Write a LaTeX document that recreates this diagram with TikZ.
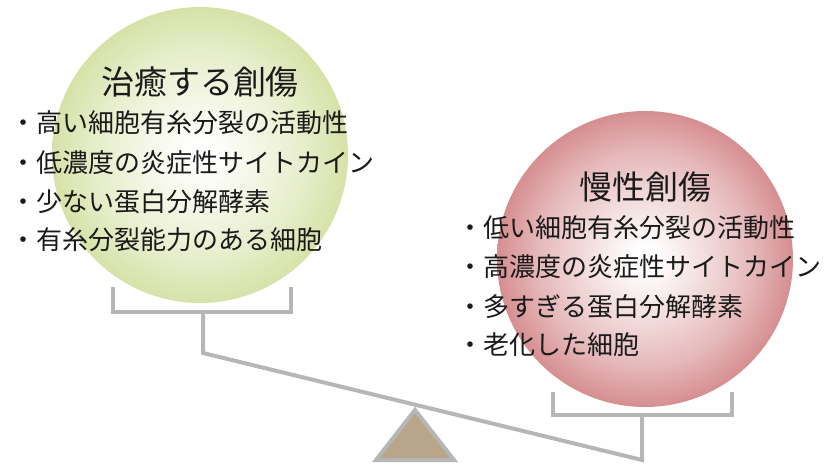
\documentclass[tikz,border=0pt]{standalone}
\usepackage{fontspec}
\setmainfont{Noto Sans CJK JP}
\definecolor{gedge}{HTML}{D6E2A8}
\definecolor{redge}{HTML}{D68E90}
\definecolor{beamgray}{HTML}{B6B6B6}
\definecolor{tan}{HTML}{B9A58A}
\definecolor{ink}{HTML}{1A1A1A}
\pgfdeclareradialshading{greenball}{\pgfpoint{0bp}{0bp}}{color(0bp)=(white); color(2bp)=(white); color(12bp)=(gedge!38!white); color(18bp)=(gedge!62!white); color(25bp)=(gedge); color(50bp)=(gedge)}
\pgfdeclareradialshading{redball}{\pgfpoint{0bp}{0bp}}{color(0bp)=(white); color(2bp)=(white); color(12bp)=(redge!38!white); color(18bp)=(redge!62!white); color(25bp)=(redge); color(50bp)=(redge)}
\tikzset{
  titletext/.style={font=\fontsize{33}{36}\selectfont, text=ink, inner sep=0pt},
  itemtext/.style={font=\fontsize{26}{30}\selectfont, text=ink, inner sep=0pt, anchor=west},
  scaleline/.style={draw=beamgray, line width=4pt, line join=miter, line cap=butt},
}
\begin{document}
\begin{tikzpicture}[x=1pt,y=-1pt]
\useasboundingbox (0,0) rectangle (839,471);
% balls
\shade[shading=greenball] (200,155) circle (148);
\shade[shading=redball] (645,259) circle (148);
% scale pan coordinates
\coordinate (gl) at (113,287);
\coordinate (glb) at (113,312);
\coordinate (grb) at (291,312);
\coordinate (gr) at (291,287);
\coordinate (gs) at (203,312);
\coordinate (gbeam) at (203,353);
\coordinate (rl) at (553,392);
\coordinate (rlb) at (553,415);
\coordinate (rrb) at (732,415);
\coordinate (rr) at (732,392);
\coordinate (rs) at (642,415);
\coordinate (rbeam) at (642,460);
\coordinate (apex) at (415,410);
\coordinate (bl) at (376,460);
\coordinate (br) at (454,460);
% fulcrum
\draw[scaleline, fill=tan] (apex) -- (br) -- (bl) -- cycle;
% pans and beam
\draw[scaleline] (gl) -- (glb) -- (grb) -- (gr);
\draw[scaleline] (rl) -- (rlb) -- (rrb) -- (rr);
\draw[scaleline] (gs) -- (gbeam) -- (rbeam) -- (rs);
% texts
\node[titletext] (gtitle) at (200,82) {治癒する創傷};
\node[itemtext] (g1) at (10,123) {・高い細胞有糸分裂の活動性};
\node[itemtext] (g2) at (10,163) {・低濃度の炎症性サイトカイン};
\node[itemtext] (g3) at (10,202) {・少ない蛋白分解酵素};
\node[itemtext] (g4) at (10,240) {・有糸分裂能力のある細胞};
\node[titletext] (rtitle) at (645,187) {慢性創傷};
\node[itemtext] (r1) at (457,228) {・低い細胞有糸分裂の活動性};
\node[itemtext] (r2) at (457,267) {・高濃度の炎症性サイトカイン};
\node[itemtext] (r3) at (457,307) {・多すぎる蛋白分解酵素};
\node[itemtext] (r4) at (457,345) {・老化した細胞};
\end{tikzpicture}
\end{document}
